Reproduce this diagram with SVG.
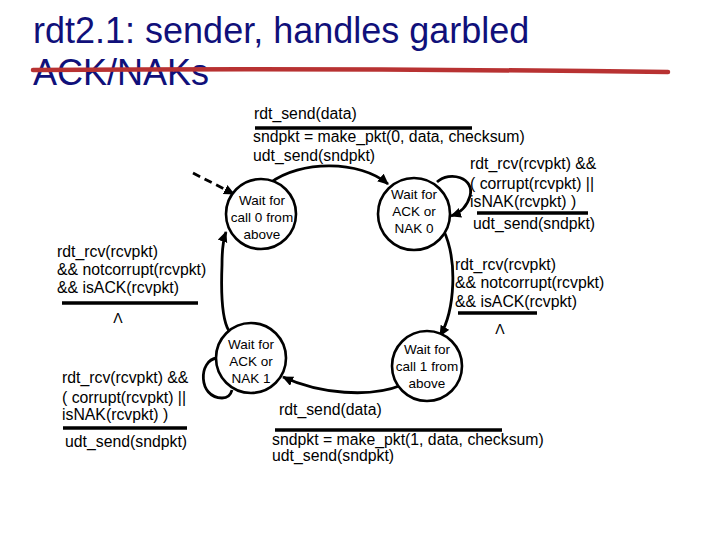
<svg xmlns="http://www.w3.org/2000/svg" width="720" height="540" viewBox="0 0 720 540">
<style>
.t{font-family:"Liberation Sans",Arial,sans-serif;font-size:15.8px;fill:#000}
.c{font-family:"Liberation Sans",Arial,sans-serif;font-size:13.5px;fill:#000;text-anchor:middle}
.title{font-family:"Liberation Sans",Arial,sans-serif;font-size:36px;fill:#10107a}
.st{fill:#fff;stroke:#000;stroke-width:2.6}
.bar{stroke:#000;stroke-width:3.5}
.e{fill:none;stroke:#000;stroke-width:2.8}
</style>
<defs>
<marker id="ah" markerUnits="userSpaceOnUse" markerWidth="12" markerHeight="12" refX="10" refY="5" orient="auto">
<path d="M0,0 L11,5 L0,10 Z" fill="#000"/>
</marker>
</defs>
<rect width="720" height="540" fill="#fff"/>
<g id="title">
<text class="title" x="33" y="43">rdt2.1: sender, handles garbled</text>
<text class="title" x="33" y="85">ACK/NAKs</text>
<path d="M33 70 Q 350 68 668 72" fill="none" stroke="#b83232" stroke-width="4.5" stroke-linecap="round"/>
</g>
<g id="connectors">
<path class="e" d="M270 183 C300 160,360 160,388 184" marker-end="url(#ah)"/>
<path class="e" d="M437 182 C450 170,475 178,470 196 C467 207,460 213,451 216" marker-end="url(#ah)"/>
<path class="e" d="M443 229 C458 260,455 310,440 336" marker-end="url(#ah)"/>
<path class="e" d="M402 385 C370 398,320 394,283 377" marker-end="url(#ah)"/>
<path class="e" d="M217 358 C198 360,198 398,222 398 C228 398,231 394,232 390"/>
<path class="e" d="M229 331 C222 320,221 290,222 265 C222 250,223 240,226 232" marker-end="url(#ah)"/>
<path class="e" d="M193 173 L234 194" stroke-dasharray="8 5" marker-end="url(#ah)"/>
</g>
<g id="s0">
<circle class="st" cx="261" cy="214" r="35"/>
<text class="c" x="262" y="205">Wait for</text>
<text class="c" x="262" y="222">call 0 from</text>
<text class="c" x="262" y="239">above</text>
</g>
<g id="s1">
<circle class="st" cx="414" cy="214" r="36"/>
<text class="c" x="414" y="199">Wait for</text>
<text class="c" x="414" y="216">ACK or</text>
<text class="c" x="414" y="233">NAK 0</text>
</g>
<g id="s2">
<circle class="st" cx="427" cy="366" r="35"/>
<text class="c" x="427" y="354">Wait for</text>
<text class="c" x="427" y="371">call 1 from</text>
<text class="c" x="427" y="388">above</text>
</g>
<g id="s3">
<circle class="st" cx="251" cy="358" r="35"/>
<text class="c" x="251" y="349">Wait for</text>
<text class="c" x="251" y="366">ACK or</text>
<text class="c" x="251" y="383">NAK 1</text>
</g>
<g id="labels">
<text class="t" x="254" y="119">rdt_send(data)</text>
<line class="bar" x1="255" y1="128" x2="472" y2="128"/>
<text class="t" x="253" y="142">sndpkt = make_pkt(0, data, checksum)</text>
<text class="t" x="253" y="161">udt_send(sndpkt)</text>

<text class="t" x="470" y="169">rdt_rcv(rcvpkt) &amp;&amp;</text>
<text class="t" x="470" y="189">( corrupt(rcvpkt) ||</text>
<text class="t" x="470" y="207">isNAK(rcvpkt) )</text>
<line class="bar" x1="477" y1="213" x2="588" y2="213"/>
<text class="t" x="473" y="229">udt_send(sndpkt)</text>

<text class="t" x="455" y="270">rdt_rcv(rcvpkt)</text>
<text class="t" x="455" y="288">&amp;&amp; notcorrupt(rcvpkt)</text>
<text class="t" x="455" y="307">&amp;&amp; isACK(rcvpkt)</text>
<line class="bar" x1="458" y1="313" x2="537" y2="313"/>
<text class="t" x="500" y="334" text-anchor="middle" style="font-size:14px">Λ</text>

<text class="t" x="57" y="257">rdt_rcv(rcvpkt)</text>
<text class="t" x="57" y="275">&amp;&amp; notcorrupt(rcvpkt)</text>
<text class="t" x="57" y="293">&amp;&amp; isACK(rcvpkt)</text>
<line class="bar" x1="62" y1="303" x2="198" y2="303"/>
<text class="t" x="118" y="323" text-anchor="middle" style="font-size:14px">Λ</text>

<text class="t" x="62" y="383">rdt_rcv(rcvpkt) &amp;&amp;</text>
<text class="t" x="62" y="403">( corrupt(rcvpkt) ||</text>
<text class="t" x="62" y="420">isNAK(rcvpkt) )</text>
<line class="bar" x1="63" y1="428" x2="187" y2="428"/>
<text class="t" x="65" y="447">udt_send(sndpkt)</text>

<text class="t" x="279" y="415">rdt_send(data)</text>
<line class="bar" x1="275" y1="430" x2="502" y2="430"/>
<text class="t" x="272" y="445">sndpkt = make_pkt(1, data, checksum)</text>
<text class="t" x="272" y="461">udt_send(sndpkt)</text>
</g>
</svg>
